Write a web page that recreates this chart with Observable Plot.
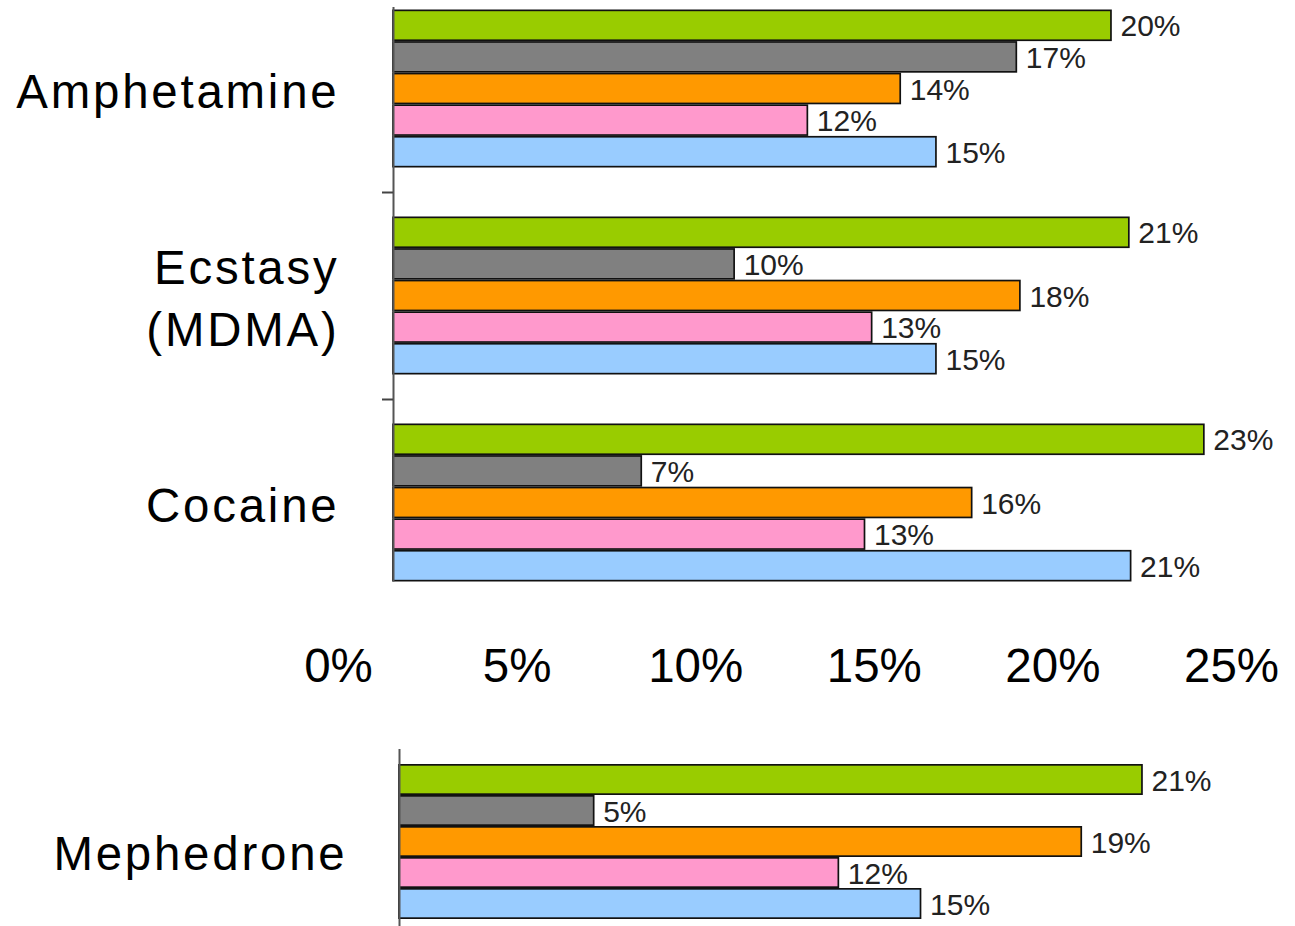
<!DOCTYPE html>
<html>
<head>
<meta charset="utf-8">
<script src="https://cdn.jsdelivr.net/npm/d3@7"></script>
<script src="https://cdn.jsdelivr.net/npm/@observablehq/plot@0.6"></script>
<style>
  html, body { margin: 0; padding: 0; background: #fff; }
  #chart svg { display: block; }
</style>
</head>
<body>
<div id="chart"></div>
<script>
// ---- data ----
const seriesNames = ["Series 1", "Series 2", "Series 3", "Series 4", "Series 5"];
const seriesColors = ["#99CC00", "#808080", "#FF9900", "#FF99CC", "#99CCFF"];
const topDrugs = ["Amphetamine", "Ecstasy\n(MDMA)", "Cocaine"];
const amphetamine = [20.1, 17.45, 14.2, 11.6, 15.2];
const ecstasy = [20.6, 9.55, 17.55, 13.4, 15.2];
const cocaine = [22.7, 6.95, 16.2, 13.2, 20.65];
const bottomDrug = ["Mephedrone"];
const mephedrone = [20.8, 5.45, 19.1, 12.3, 14.6];
const xTicks = [0, 5, 10, 15, 20, 25];

// ---- tables ----
const topValues = [amphetamine, ecstasy, cocaine];
const topRows = topDrugs.flatMap((drug, g) =>
  topValues[g].map((value, s) => ({drug, g, s, series: seriesNames[s], value})));
const bottomRows = mephedrone.map((value, s) => ({drug: bottomDrug[0], s, series: seriesNames[s], value}));

const gap = 1.55;              // space between groups, in bar heights
const groupStep = 5 + gap;
const y1 = d => d.g * groupStep + d.s;
const fontFamily = "'Liberation Sans', Arial, Helvetica, sans-serif";
const pct = d => Math.round(d.value) + "%";

const topPlot = Plot.plot({
  width: 1295, height: 700,
  marginLeft: 393, marginRight: 9, marginTop: 9.5, marginBottom: 118.5,
  style: {fontFamily, background: "#fff", color: "#000"},
  x: {domain: [0, 25], axis: null},
  y: {domain: [0, 3 * 5 + 2 * gap], reverse: true, axis: null},
  color: {domain: seriesNames, range: seriesColors},
  marks: [
    Plot.rect(topRows, {
      x1: 0, x2: "value", y1: y1, y2: d => y1(d) + 1, fill: "series",
      stroke: "#111", strokeWidth: 1.7, insetTop: 0.85, insetBottom: 0.85
    }),
    Plot.ruleX([0], {stroke: "#555", strokeWidth: 2, insetTop: -2.5}),
    Plot.axisY({ticks: [5 + gap / 2, 10 + 1.5 * gap], tickFormat: () => "", tickSize: 11, stroke: "#444", strokeWidth: 2, label: null}),
    Plot.text(topRows, {
      x: "value", y: d => y1(d) + 0.5, text: pct,
      dx: 9, dy: 1, textAnchor: "start", fontSize: 30, fill: "#222"
    }),
    Plot.text(topDrugs, {
      frameAnchor: "left", y: (d, i) => i * groupStep + 2.5, text: d => d,
      textAnchor: "end", dx: -54, dy: -1, fontSize: 47.4, lineHeight: 1.305,
      fill: "#000"
    }),
    Plot.axisX({ticks: xTicks, tickFormat: d => d + "%", tickSize: 0, tickPadding: 66, fontSize: 47.5, dx: -55, label: null})
  ]
});

const bottomPlot = Plot.plot({
  width: 1295, height: 226,
  marginLeft: 399, marginRight: 3, marginTop: 63.3, marginBottom: 6,
  style: {fontFamily, background: "#fff", color: "#000"},
  x: {domain: [0, 25], axis: null},
  y: {domain: seriesNames, padding: 0, axis: null},
  color: {domain: seriesNames, range: seriesColors},
  marks: [
    Plot.barX(bottomRows, {
      x1: 0, x2: "value", y: "series", fill: "series",
      stroke: "#111", strokeWidth: 1.7, insetTop: 0.85, insetBottom: 0.85
    }),
    Plot.ruleX([0], {stroke: "#555", strokeWidth: 2, insetTop: -14.3, insetBottom: -6}),
    Plot.text(bottomRows, {
      x: "value", y: "series", text: pct,
      dx: 9, dy: 1, textAnchor: "start", fontSize: 30, fill: "#222"
    }),
    Plot.text(bottomDrug, {
      frameAnchor: "left", text: d => d,
      textAnchor: "end", dx: -52, dy: 13, fontSize: 47.4,
      fill: "#000"
    })
  ]
});

// widen the letter spacing of the category names (the reference's font runs wide)
for (const svg of [topPlot, bottomPlot]) {
  d3.select(svg).selectAll('g[font-size="47.4"] text').style("letter-spacing", "2.8px");
}

const chart = document.getElementById("chart");
chart.appendChild(topPlot);
chart.appendChild(bottomPlot);
</script>
</body>
</html>
